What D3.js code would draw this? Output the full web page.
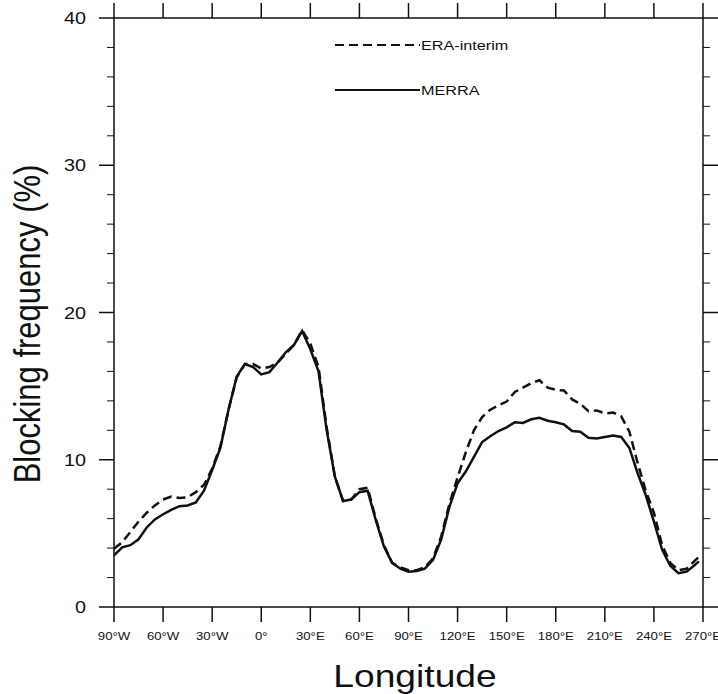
<!DOCTYPE html>
<html>
<head>
<meta charset="utf-8">
<script src="https://cdn.jsdelivr.net/npm/d3@7"></script>
<style>
  body { margin: 0; background: #fff; }
  svg { font-family: "Liberation Sans", Arial, sans-serif; }
</style>
</head>
<body>
<div id="chart"></div>
<script>
// longitude (deg, -90 = 90W) and blocking frequency (%)
const lons = [-90, -85, -80, -75, -70, -65, -60, -55, -50, -45, -40, -35, -30, -25, -20, -15, -10, -5,
  0, 5, 10, 15, 20, 25, 30, 35, 40, 45, 50, 55, 60, 65, 70, 75, 80, 85, 90, 95, 100, 105, 110, 115,
  120, 125, 130, 135, 140, 145, 150, 155, 160, 165, 170, 175, 180, 185, 190, 195, 200, 205, 210, 215,
  220, 225, 230, 235, 240, 245, 250, 255, 260, 265, 267.5];

const merra = [3.5, 4.05, 4.2, 4.6, 5.4, 5.95, 6.3, 6.6, 6.85, 6.9, 7.1, 7.9, 9.3, 10.8, 13.4, 15.65, 16.5, 16.3,
  15.8, 15.95, 16.6, 17.3, 17.8, 18.75, 17.5, 16.0, 12.0, 8.85, 7.2, 7.3, 7.8, 7.9, 5.9, 4.1, 3.0, 2.6, 2.4, 2.45, 2.6, 3.2, 4.6, 6.8,
  8.4, 9.2, 10.2, 11.2, 11.6, 11.95, 12.2, 12.55, 12.5, 12.75, 12.85, 12.65, 12.55, 12.4, 11.95, 11.9, 11.5, 11.45, 11.55, 11.65,
  11.55, 10.8, 9.1, 7.6, 5.8, 3.9, 2.8, 2.3, 2.4, 2.85, 3.1];

const era = [3.95, 4.4, 5.1, 5.8, 6.4, 6.9, 7.3, 7.5, 7.4, 7.45, 7.8, 8.3, 9.4, 10.9, 13.4, 15.6, 16.5, 16.5,
  16.2, 16.3, 16.6, 17.2, 17.8, 18.8, 17.9, 16.3, 12.2, 8.85, 7.2, 7.3, 8.0, 8.1, 6.0, 4.2, 3.0, 2.7, 2.5, 2.5, 2.7, 3.3, 4.8, 7.0,
  8.8, 10.5, 12.0, 12.9, 13.4, 13.7, 13.95, 14.6, 14.9, 15.2, 15.4, 14.9, 14.75, 14.7, 14.1, 13.8, 13.3, 13.35, 13.15, 13.2,
  12.95, 11.9, 9.8, 7.9, 6.4, 4.2, 3.0, 2.5, 2.6, 3.15, 3.4];

const xTicks = [-90, -60, -30, 0, 30, 60, 90, 120, 150, 180, 210, 240, 270];
const xTickLabels = ["90°W", "60°W", "30°W", "0°", "30°E", "60°E", "90°E", "120°E", "150°E", "180°E", "210°E", "240°E", "270°E"];
const yTicks = [0, 10, 20, 30, 40];
const yMinor = d3.range(0, 41, 2);

const seriesNames = ["ERA-interim", "MERRA"];

const width = 718, height = 694;
const pLeft = 114, pRight = 703, pTop = 18, pBottom = 607;
const sx = 1.2; // text in the original looks stretched sideways

const svg = d3.select('#chart').append('svg')
  .attr('width', width)
  .attr('height', height);

const x = d3.scaleLinear().domain([-90, 270]).range([pLeft, pRight]);
const y = d3.scaleLinear().domain([0, 40]).range([pBottom, pTop]);

const ink = '#111';

// ticks, all pointing outward
const ticks = svg.append('g').attr('stroke', ink);
xTicks.forEach(t => {
  ticks.append('line').attr('x1', x(t)).attr('x2', x(t)).attr('y1', pBottom).attr('y2', pBottom + 15).attr('stroke-width', 1.5);
  ticks.append('line').attr('x1', x(t)).attr('x2', x(t)).attr('y1', pTop).attr('y2', pTop - 15).attr('stroke-width', 1.5);
});
yMinor.forEach(t => {
  const len = t % 10 === 0 ? 15 : 7;
  ticks.append('line').attr('x1', pLeft).attr('x2', pLeft - len).attr('y1', y(t)).attr('y2', y(t)).attr('stroke-width', t % 10 === 0 ? 1.5 : 1);
  ticks.append('line').attr('x1', pRight).attr('x2', pRight + len).attr('y1', y(t)).attr('y2', y(t)).attr('stroke-width', t % 10 === 0 ? 1.5 : 1);
});

// frame
svg.append('rect')
  .attr('x', pLeft).attr('y', pTop)
  .attr('width', pRight - pLeft).attr('height', pBottom - pTop)
  .attr('fill', 'none').attr('stroke', ink).attr('stroke-width', 1.5);

// tick labels
svg.append('g').selectAll('text')
  .data(yTicks).join('text')
  .attr('transform', d => `translate(86, ${y(d) + 6}) scale(${sx}, 1)`)
  .attr('text-anchor', 'end')
  .style('font-size', '16.5px')
  .attr('fill', ink)
  .text(d => d);

svg.append('g').selectAll('text')
  .data(xTicks).join('text')
  .attr('transform', d => `translate(${x(d)}, 640) scale(${sx}, 1)`)
  .attr('text-anchor', 'middle')
  .style('font-size', '11px')
  .attr('fill', ink)
  .text((d, i) => xTickLabels[i]);

// axis titles
svg.append('text')
  .attr('transform', `translate(415, 687) scale(${sx}, 1)`)
  .attr('text-anchor', 'middle')
  .style('font-size', '31px')
  .attr('fill', ink)
  .text('Longitude');

svg.append('text')
  .attr('transform', `translate(40, 324) scale(${sx}, 1) rotate(-90)`)
  .attr('text-anchor', 'middle')
  .style('font-size', '31px')
  .attr('fill', ink)
  .text('Blocking frequency (%)');

// curves
const line = d3.line()
  .x((d, i) => x(lons[i]))
  .y(d => y(d));

svg.append('path')
  .datum(era)
  .attr('fill', 'none')
  .attr('stroke', ink)
  .attr('stroke-width', 2.5)
  .attr('stroke-dasharray', '9,5')
  .attr('d', line);

svg.append('path')
  .datum(merra)
  .attr('fill', 'none')
  .attr('stroke', ink)
  .attr('stroke-width', 2.5)
  .attr('d', line);

// legend
const legend = svg.append('g');
seriesNames.forEach((name, i) => {
  const ly = 45 + i * 45;
  legend.append('line')
    .attr('x1', 335).attr('x2', 420).attr('y1', ly).attr('y2', ly)
    .attr('stroke', ink).attr('stroke-width', 2)
    .attr('stroke-dasharray', i === 0 ? '9,5' : null);
  legend.append('text')
    .attr('transform', `translate(421, ${ly + 5}) scale(${sx}, 1)`)
    .style('font-size', '13.5px')
    .attr('fill', ink)
    .text(name);
});
</script>
</body>
</html>
